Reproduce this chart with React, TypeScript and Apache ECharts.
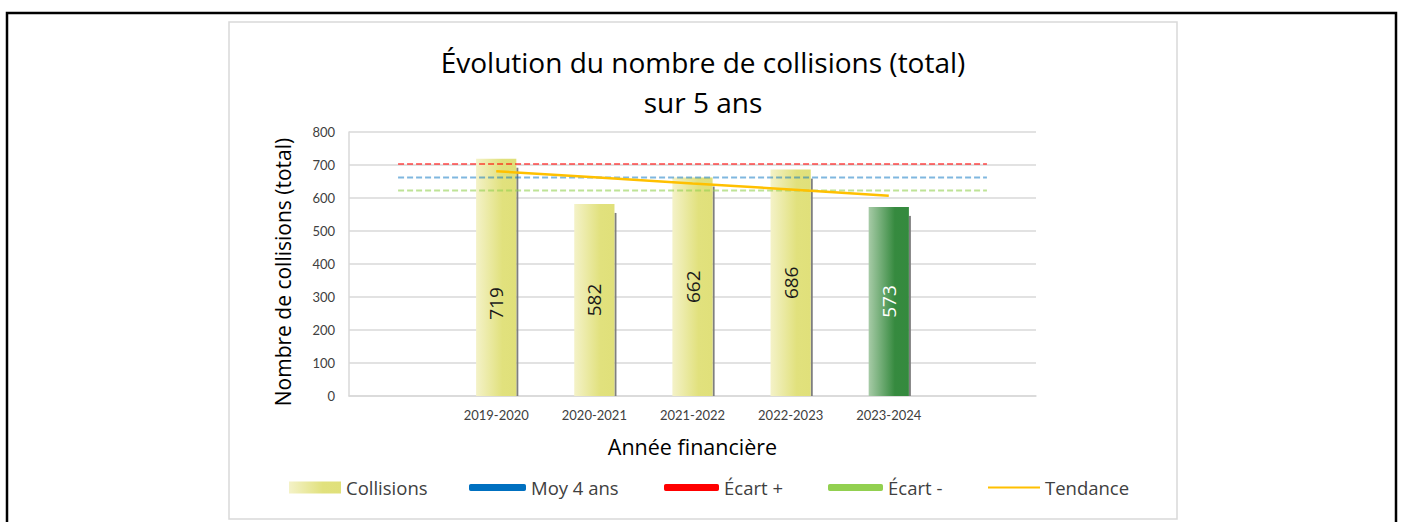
import React, { useEffect, useRef } from "react";
import * as echarts from "echarts";

const categories = ["", "2019-2020", "2020-2021", "2021-2022", "2022-2023", "2023-2024", ""];
const collisions = [null, 719, 582, 662, 686, 573, null];
const moy4ans = [662, 662, 662, 662, 662, 662, 662];
const ecartPlus = [703, 703, 703, 703, 703, 703, 703];
const ecartMoins = [623, 623, 623, 623, 623, 623, 623];
const tendance = [null, 681, 663, 644, 626, 607, null];
const yTicks = { min: 0, max: 800, interval: 100 };

const FONT = "Open Sans";
const TICKFONT = "Lato";

const yellowGrad = new echarts.graphic.LinearGradient(0, 0, 1, 0, [
  { offset: 0, color: "#f4f2c8" },
  { offset: 0.65, color: "#e1e17d" },
  { offset: 1, color: "#e0e07a" },
]);
const greenGrad = new echarts.graphic.LinearGradient(0, 0, 1, 0, [
  { offset: 0, color: "#a7cba7" },
  { offset: 0.65, color: "#368a3f" },
  { offset: 1, color: "#348a3e" },
]);

export default function App() {
  const ref = useRef<HTMLDivElement>(null);
  useEffect(() => {
    if (!ref.current) return;
    const chart = echarts.init(ref.current, undefined, { renderer: "svg" });
    const barData = collisions.map((v, i) => {
      if (v == null) return null;
      if (i === 5) return { value: v, itemStyle: { color: greenGrad }, label: { color: "#ffffff" } };
      if (i === 1)
        return {
          value: v,
          label: { position: ["50%", "61%"], align: "center", verticalAlign: "middle" },
        };
      return v;
    });
    const shadowData = collisions
      .map((v, i) => (v == null ? null : [i, v]))
      .filter((d) => d != null);
    const legendText = { fontFamily: FONT, fontSize: 18.5, color: "#404040" };
    const mkLegend = (name: string, left: number, w: number, h: number, icon: string, color?: string) => ({
      left,
      top: 478,
      padding: 0,
      itemWidth: w,
      itemHeight: h,
      itemGap: 4,
      textStyle: legendText,
      data: [color ? { name, icon, itemStyle: { color, opacity: 1 } } : { name, icon }],
    });
    chart.setOption({
      animation: false,
      backgroundColor: "#ffffff",
      textStyle: { fontFamily: FONT },
      title: {
        text: "Évolution du nombre de collisions (total)\nsur 5 ans",
        left: 698,
        textAlign: "center",
        top: 37,
        textStyle: { fontFamily: FONT, fontSize: 28, fontWeight: "normal", color: "#000000", lineHeight: 40 },
      },
      grid: { left: 349, right: 365, top: 132, bottom: 126, containLabel: false },
      xAxis: {
        type: "category",
        data: categories,
        name: "Année financière",
        nameLocation: "middle",
        nameGap: 39,
        nameTextStyle: { fontFamily: FONT, fontSize: 21.5, color: "#000000" },
        axisLine: { show: true, lineStyle: { color: "#d9d9d9", width: 1.5 } },
        axisTick: { show: false },
        axisLabel: { fontFamily: TICKFONT, fontSize: 13, color: "#404040", margin: 12, interval: 0 },
      },
      yAxis: {
        type: "value",
        min: yTicks.min,
        max: yTicks.max,
        interval: yTicks.interval,
        name: "Nombre de collisions (total)",
        nameLocation: "middle",
        nameGap: 56,
        nameTextStyle: { fontFamily: FONT, fontSize: 21, color: "#000000", padding: [0, 16, 0, 0] },
        axisLine: { show: true, lineStyle: { color: "#d9d9d9", width: 1.5 } },
        axisTick: { show: false },
        splitLine: { lineStyle: { color: "#d9d9d9", width: 1.5 } },
        axisLabel: { fontFamily: TICKFONT, fontSize: 13, color: "#404040", margin: 14 },
      },
      legend: [
        mkLegend("Collisions", 289, 52, 12, "rect"),
        mkLegend("Moy 4 ans", 469, 57, 7, "roundRect", "#0070c0"),
        mkLegend("Écart +", 664, 55, 7, "roundRect", "#ff0000"),
        mkLegend("Écart -", 828, 55, 7, "roundRect", "#92d050"),
        mkLegend("Tendance", 988, 52, 2, "rect", "#ffc000"),
      ],
      graphic: [
        {
          type: "rect",
          shape: { x: 7, y: 13, width: 1389, height: 530 },
          style: { fill: "none", stroke: "#000000", lineWidth: 2.5 },
          silent: true,
        },
        {
          type: "rect",
          shape: { x: 229, y: 22, width: 948, height: 497 },
          style: { fill: "none", stroke: "#d9d9d9", lineWidth: 1.5 },
          silent: true,
        },
      ],
      series: [
        {
          name: "shadow",
          type: "custom",
          z: 1,
          silent: true,
          data: shadowData,
          renderItem: (params: any, api: any) => {
            const x = api.value(0);
            const v = api.value(1);
            const top = api.coord([x, v]);
            const base = api.coord([x, 0]);
            const bw = api.size([1, 0])[0] * 0.41;
            return {
              type: "rect",
              shape: { x: top[0] + bw / 2, y: top[1] + 9, width: 2, height: base[1] - top[1] - 9 },
              style: { fill: "#7f7f7f" },
            };
          },
        },
        {
          name: "Collisions",
          type: "bar",
          z: 2,
          barWidth: "41%",
          data: barData,
          itemStyle: { color: yellowGrad },
          label: {
            show: true,
            position: "inside",
            rotate: 90,
            fontFamily: FONT,
            fontSize: 19,
            color: "#1a1a1a",
          },
        },
        {
          name: "Moy 4 ans",
          type: "line",
          z: 3,
          data: moy4ans,
          symbol: "none",
          lineStyle: { color: "#0070c0", width: 2, type: [6, 3], opacity: 0.5 },
          itemStyle: { color: "#0070c0" },
        },
        {
          name: "Écart +",
          type: "line",
          z: 3,
          data: ecartPlus,
          symbol: "none",
          lineStyle: { color: "#ff0000", width: 2, type: [6, 3], opacity: 0.55 },
          itemStyle: { color: "#ff0000" },
        },
        {
          name: "Écart -",
          type: "line",
          z: 3,
          data: ecartMoins,
          symbol: "none",
          lineStyle: { color: "#92d050", width: 2, type: [6, 3], opacity: 0.6 },
          itemStyle: { color: "#92d050" },
        },
        {
          name: "Tendance",
          type: "line",
          z: 4,
          data: tendance,
          symbol: "none",
          lineStyle: { color: "#ffc000", width: 2.5 },
          itemStyle: { color: "#ffc000" },
        },
      ],
    });
    return () => chart.dispose();
  }, []);
  return (
    <div
      ref={ref}
      style={{ position: "fixed", left: 0, top: 0, width: 1401, height: 522, background: "#ffffff" }}
    />
  );
}
